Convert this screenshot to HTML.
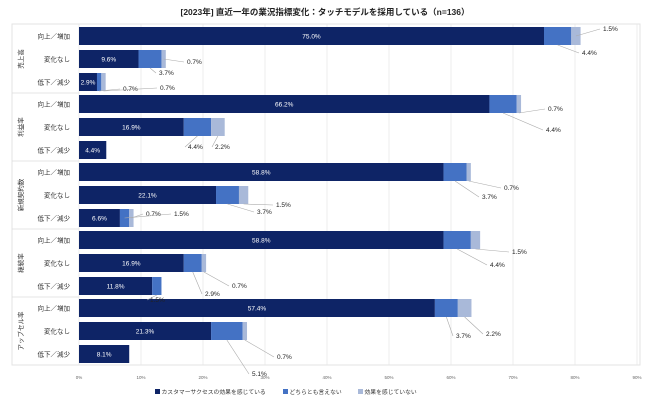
<!DOCTYPE html>
<html><head><meta charset="utf-8">
<style>
html,body{margin:0;padding:0;background:#fff;}
body{width:650px;height:405px;overflow:hidden;font-family:"Liberation Sans","Noto Sans CJK JP",sans-serif;}
svg text{font-family:"Liberation Sans","Noto Sans CJK JP",sans-serif;}
</style></head>
<body>
<svg id="chart" width="650" height="405" xmlns="http://www.w3.org/2000/svg">
<text x="325" y="15" text-anchor="middle" font-size="8.5" font-weight="bold" fill="#222">[2023年] 直近一年の業況指標変化：タッチモデルを採用している（n=136）</text>
</svg>
<script>
const groups = ["売上高","利益率","新規契約数","継続率","アップセル率"];
const rows = ["向上／増加","変化なし","低下／減少"];
const seriesNames = ["カスタマーサクセスの効果を感じている","どちらとも言えない","効果を感じていない"];
const effective = [75.0,9.6,2.9, 66.2,16.9,4.4, 58.8,22.1,6.6, 58.8,16.9,11.8, 57.4,21.3,8.1];
const neutral   = [4.4,3.7,0.7, 4.4,4.4,0, 3.7,3.7,1.5, 4.4,2.9,1.5, 3.7,5.1,0];
const noEffect  = [1.5,0.7,0.7, 0.7,2.2,0, 0.7,1.5,0.7, 1.5,0.7,0, 2.2,0.7,0];
const ticks = [0,10,20,30,40,50,60,70,80,90];
const colors = ["#0e2466","#4472c4","#a9b9d9"];
// label placement (layout, not data): [rowIndex, series, labelX, labelY]
const outLabels = [
 [0,2,603,31],[0,1,582,55],[1,1,159,75],[1,2,187,64],[2,1,123,91],[2,2,160,90],
 [3,2,548,111],[3,1,546,132],[4,1,188,149],[4,2,215,149],
 [6,2,504,190],[6,1,482,199],[7,2,276,207],[7,1,257,214],[8,2,146,216],[8,1,174,216],
 [9,2,512,254],[9,1,490,267],[10,2,232,288],[10,1,205,296],[11,1,150,302],
 [12,1,456,338],[12,2,486,336],[13,2,277,359],[13,1,252,376]
];
const svg = document.getElementById('chart');
const NS = "http://www.w3.org/2000/svg";
const x0=79, pxPer=6.2;
const xs = v => x0 + v*pxPer;
const rowY = i => 36 + Math.floor(i/3)*68 + (i%3)*23;
function mk(tag, attrs, text){const e=document.createElementNS(NS,tag);for(const k in attrs)e.setAttribute(k,attrs[k]);if(text!==undefined)e.textContent=text;svg.appendChild(e);return e;}
let f=mk('rect',{x:12,y:24,width:628,height:341,fill:'none',stroke:'#e3e3e3'});


ticks.forEach(t=>{
 const g=mk('line',{x1:xs(t),x2:xs(t),y1:24,y2:365,stroke:'#e6e6e6','stroke-width':0.7});
 
 
 const l=mk('text',{x:xs(t),y:379,'font-size':4.5,'text-anchor':'middle',fill:'#666'},t+'%');
 
 
});
groups.forEach((g,gi)=>{
 if(gi>0){const s=mk('line',{x1:12,x2:79,y1:rowY(gi*3)-11,y2:rowY(gi*3)-11,stroke:'#ddd','stroke-width':0.8});
  
  }
 const cy=rowY(gi*3+1);
 const t=mk('text',{x:0,y:0,'font-size':6.5,'text-anchor':'middle',fill:'#333',transform:`translate(23,${cy}) rotate(-90)`},g);
 
 
});
const data=[effective,neutral,noEffect];
for(let i=0;i<effective.length;i++){
 const y=rowY(i);
 const rl=mk('text',{x:70,y:y+2.5,'font-size':6.5,'text-anchor':'end',fill:'#333'},rows[i%3]);
 
 
 let acc=0;
 for(let s=0;s<3;s++){
  const v=data[s][i]; if(v<=0)continue;
  const r=mk('rect',{x:xs(acc),y:y-9,width:v*pxPer,height:18,fill:colors[s]});
  
  
  if(s===0){
   const t=mk('text',{x:xs(acc+v/2),y:y+2.5,'font-size':6.5,'text-anchor':'middle',fill:'#fff'},v.toFixed(1)+'%');
   
   
  }
  acc+=v;
 }
}
outLabels.forEach(([i,s,lx,ly])=>{
 let acc=0;for(let k=0;k<s;k++)acc+=data[k][i];
 const v=data[s][i];
 const ex=xs(acc+v/2), ey=rowY(i)+(ly>rowY(i)+5?9:0);
 const ln=mk('line',{x1:ex,y1:ey,x2:lx-3,y2:ly-2,stroke:'#aaa','stroke-width':0.6});
 
 
 const t=mk('text',{x:lx,y:ly,'font-size':6.5,fill:'#222'},v.toFixed(1)+'%');
 
 
});
const lx=[155,283,358];
seriesNames.forEach((n,s)=>{
 const r=mk('rect',{x:lx[s],y:389,width:5,height:5,fill:colors[s]});
 
 
 const t=mk('text',{x:lx[s]+6.5,y:394,'font-size':5.8,fill:'#333'},n);
 
 
});
</script>
</body></html>
